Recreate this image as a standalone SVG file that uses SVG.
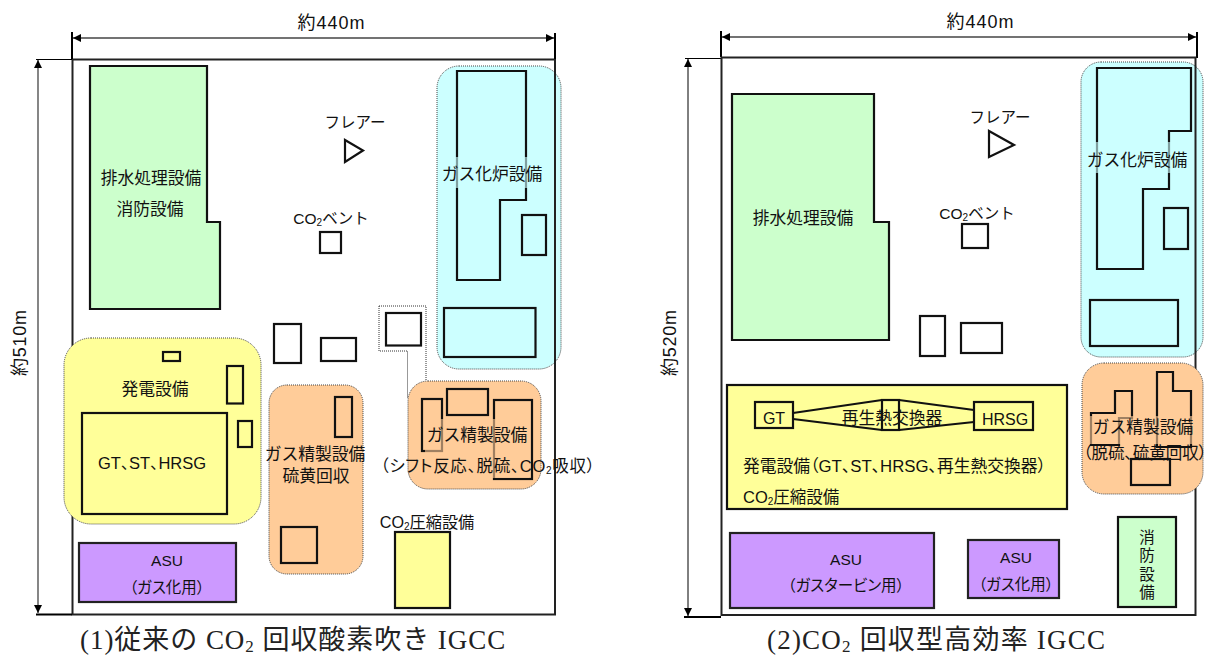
<svg xmlns="http://www.w3.org/2000/svg" width="1209" height="655" viewBox="0 0 1209 655">
<style>
text{font-family:"Liberation Sans","Noto Sans CJK JP",sans-serif;font-size:16.8px;fill:#111;text-anchor:middle;dominant-baseline:central}
.l{text-anchor:start}
.s{font-size:15.500px}
.d{font-size:18px}
.p{font-feature-settings:"palt"}
.title{font-family:"Liberation Serif","Noto Sans CJK JP",serif;font-size:27px;letter-spacing:.95px;fill:#222;text-anchor:start;dominant-baseline:alphabetic}
.frame{fill:none;stroke:#222;stroke-width:2}
.b{fill:none;stroke:#111;stroke-width:2.2}
.w{fill:#fff;stroke:#111;stroke-width:2.2}
.grn{fill:#ccffcc;stroke:#111;stroke-width:2.2}
.yel{fill:#ffff99;stroke:#111;stroke-width:2.2}
.pur{fill:#cc99ff;stroke:#222;stroke-width:2.2}
.reg{stroke:#444;stroke-width:1;stroke-dasharray:1 1}
.cy{fill:#ccffff}.ye{fill:#ffff99}.or{fill:#ffcc99}
.dim{stroke:#444;stroke-width:1.3;fill:none}
.tick{stroke:#000;stroke-width:2;fill:none}
.thin{stroke:#000;stroke-width:1;fill:none}
.dot{fill:none;stroke:#333;stroke-width:1;stroke-dasharray:1 1}
</style>
<defs>
<marker id="ah" markerUnits="userSpaceOnUse" markerWidth="9" markerHeight="9" refX="8" refY="4" orient="auto-start-reverse"><path d="M0 0L8 4L0 8Z" fill="#000"/></marker>
</defs>
<rect width="1209" height="655" fill="#fff"/>

<g id="panel1-cyan-region"><rect class="reg cy" x="437" y="66" width="124" height="303" rx="22"/></g>
<rect class="frame" x="72.500" y="59.500" width="482.500" height="555"/>
<g id="panel1-yellow-region"><rect class="reg ye" x="64" y="338" width="197" height="186" rx="27"/></g>

<g id="connectors">
<path class="dim" d="M73 38H554" marker-start="url(#ah)" marker-end="url(#ah)"/>
<path class="tick" d="M72 32V59M555 33V59"/>
<path class="dim" d="M38 60V613" marker-start="url(#ah)" marker-end="url(#ah)"/>
<path class="thin" d="M36 59.500H72"/>
<path class="tick" d="M36 614.500H72"/>
<path class="dim" d="M722 37H1196" marker-start="url(#ah)" marker-end="url(#ah)"/>
<path class="tick" d="M721 31V57M1197 32V58"/>
<path class="thin" d="M688 59V616" marker-start="url(#ah)" marker-end="url(#ah)"/>
<path class="thin" d="M685 58.500H721"/>
<path class="tick" d="M684 617H721"/>
</g>

<g id="dim-labels">
<text class="d" x="331" y="23" textLength="67">約440m</text>
<text class="d" x="980" y="22" textLength="67">約440m</text>
<text class="d" transform="translate(20 343) rotate(-90)" textLength="66">約510m</text>
<text class="d" transform="translate(670 343) rotate(-90)" textLength="66">約520m</text>
</g>

<g id="p1-drain"><path class="grn" d="M90 66H207V222H220V309H90Z"/>
<text x="151" y="178">排水処理設備</text><text x="150" y="209">消防設備</text></g>
<g id="p1-gasifier"><path class="b" d="M457 71H526V200H500V280H457Z"/><rect class="b" x="522" y="215" width="24" height="40"/><rect class="b" x="444" y="308" width="91.500" height="49"/>
<rect x="442" y="157" width="100" height="31" fill="#ccffff" opacity=".6"/>
<text x="492" y="174">ガス化炉設備</text></g>
<g id="p1-flare"><path class="b" d="M345 140L363 150.500L345 162Z"/><text class="s" x="355" y="122">フレアー</text></g>
<g id="p1-vent"><rect class="b" x="320" y="232" width="21" height="21"/><text class="s" x="331" y="218">CO<tspan font-size="10" dy="4">2</tspan><tspan dy="-4">ベント</tspan></text></g>
<g id="p1-box-a"><rect class="w" x="274" y="324" width="27" height="39"/></g>
<g id="p1-box-b"><rect class="w" x="321" y="338" width="35" height="23"/></g>
<g id="p1-box-c"><path class="dot" d="M379 306H426V381M379 306V351H407.500V398"/><rect class="w" x="386" y="313" width="35" height="32.500"/></g>
<g id="p1-power"><rect class="b" x="163" y="352" width="17" height="9"/><rect class="b" x="227" y="366" width="16" height="37.500"/><rect class="b" x="238" y="421" width="14" height="26"/><rect class="b" x="82" y="413" width="145" height="101"/>
<text x="155" y="389">発電設備</text><text class="p" x="152" y="463" style="font-size:16.500px">GT、ST、HRSG</text></g>
<g id="p1-asu"><rect class="pur" x="79" y="543" width="157" height="59"/><text class="s" x="167" y="560">ASU</text><text class="p s" x="167" y="587">（ガス化用）</text></g>
<g id="p1-purify-a"><rect class="reg or" x="269" y="385" width="94" height="189" rx="18"/><rect class="b" x="335" y="397" width="17" height="40"/><rect class="b" x="281" y="527" width="36" height="36"/>
<text x="315" y="454">ガス精製設備</text><text x="316" y="476">硫黄回収</text></g>
<g id="p1-purify-b"><rect class="reg or" x="408" y="381" width="133" height="108" rx="20"/><rect class="b" x="422" y="399" width="20" height="52"/><rect class="b" x="447" y="389" width="41" height="26"/><rect class="b" x="494" y="400" width="38" height="79"/>
<rect x="425" y="419" width="104" height="59" fill="#ffcc99" opacity=".6"/>
<text x="477" y="435">ガス精製設備</text><text class="p" x="488" y="466" style="font-size:16.500px;letter-spacing:.7px">（シフト反応、脱硫、CO<tspan font-size="10" dy="4">2</tspan><tspan dy="-4">吸収）</tspan></text></g>
<g id="p1-co2"><rect class="yel" x="395" y="532" width="55" height="76"/><text x="427" y="522" style="font-size:16.200px">CO<tspan font-size="10" dy="4">2</tspan><tspan dy="-4">圧縮設備</tspan></text></g>
<text class="title" x="80" y="649">(1)従来の CO<tspan font-size="17" dy="3">2</tspan><tspan dy="-3"> 回収酸素吹き IGCC</tspan></text>

<g id="panel2-cyan-region"><rect class="reg cy" x="1081" y="62" width="122" height="295" rx="20"/></g>
<rect class="frame" x="721.500" y="57.500" width="474" height="557.500"/>

<g id="p2-drain"><path class="grn" d="M732 94H874V222H889V340H732Z"/><text x="803" y="218">排水処理設備</text></g>
<g id="p2-gasifier"><path class="b" d="M1097 68H1191V131H1169V189H1143V269H1097Z"/><rect class="b" x="1164" y="208" width="24" height="41"/><rect class="b" x="1090" y="300" width="88" height="46"/>
<rect x="1087" y="142" width="104" height="31" fill="#ccffff" opacity=".6"/>
<text x="1137" y="160">ガス化炉設備</text></g>
<g id="p2-flare"><path class="b" d="M989 131L1014 145L989 157Z"/><text class="s" x="1000" y="117">フレアー</text></g>
<g id="p2-vent"><rect class="b" x="962" y="224" width="26" height="24"/><text class="s" x="977" y="213">CO<tspan font-size="10" dy="4">2</tspan><tspan dy="-4">ベント</tspan></text></g>
<g id="p2-box-a"><rect class="w" x="920" y="316" width="25" height="40"/></g>
<g id="p2-box-b"><rect class="w" x="961" y="323" width="41" height="30"/></g>
<g id="p2-purify"><rect class="reg or" x="1082" y="363" width="121" height="131" rx="22"/>
<path class="b" d="M1091 413H1115V391H1132V418H1119V445H1091Z"/><path class="b" d="M1157 372H1173V391H1191V447H1157Z"/><rect class="b" x="1131" y="459" width="39" height="26"/>
<rect x="1087" y="416" width="106" height="28" fill="#ffcc99" opacity=".6"/>
<text x="1143" y="427">ガス精製設備</text><text class="p" x="1145" y="453" style="font-size:16.500px">（脱硫、硫黄回収）</text></g>
<g id="p2-power"><rect class="yel" x="727" y="385" width="340" height="124"/>
<path class="b" d="M793 413L882 400M793 419L882 430M899 400L974 410M899 430L974 422"/><rect class="b" x="882" y="400" width="17" height="30"/>
<rect class="b" x="755" y="402" width="38" height="26"/><rect class="b" x="974" y="402" width="59" height="28"/>
<text x="774" y="418" style="font-size:16px">GT</text><text x="1005" y="419" style="font-size:16px">HRSG</text><text x="892" y="418">再生熱交換器</text>
<text class="l p" x="743" y="466">発電設備（GT、ST、HRSG、再生熱交換器）</text>
<text class="l" x="743" y="497" style="font-size:16.500px">CO<tspan font-size="10" dy="4">2</tspan><tspan dy="-4">圧縮設備</tspan></text></g>
<g id="p2-asu-gt"><rect class="pur" x="730" y="533" width="204" height="75"/><text class="s" x="846" y="559">ASU</text><text class="p s" x="846" y="585">（ガスタービン用）</text></g>
<g id="p2-asu-gas"><rect class="pur" x="968" y="540" width="91" height="58"/><text class="s" x="1016" y="557">ASU</text><text class="p s" x="1016" y="584">（ガス化用）</text></g>
<g id="p2-fire"><rect class="grn" x="1118" y="517" width="58" height="90"/><text class="s" x="1147" y="537">消</text><text class="s" x="1147" y="555">防</text><text class="s" x="1147" y="574">設</text><text class="s" x="1147" y="592">備</text></g>
<text class="title" x="767" y="649" style="letter-spacing:1.2px">(2)CO<tspan font-size="17" dy="3">2</tspan><tspan dy="-3"> 回収型高効率 IGCC</tspan></text>
</svg>
